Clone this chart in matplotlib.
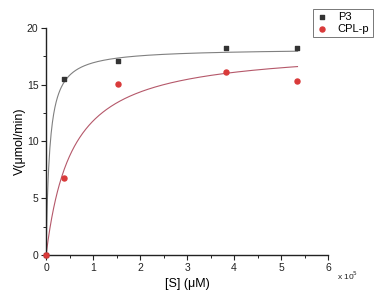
import numpy as np
import matplotlib
matplotlib.use("Agg")
import matplotlib.pyplot as plt
from matplotlib.ticker import MultipleLocator

plt.rcParams['font.family'] = ['Liberation Sans', 'DejaVu Sans']

# substrate concentration (x 10^5 uM) and velocity (umol/min)
s_p3 = [0, 0.38, 1.52, 3.82, 5.35]
v_p3 = [0, 15.5, 17.1, 18.2, 18.2]
s_cpl = [0, 0.38, 1.53, 3.83, 5.35]
v_cpl = [0, 6.8, 15.1, 16.1, 15.3]

# Michaelis-Menten fit parameters (Vmax, Km)
fit_p3 = (18.2, 0.075)
fit_cpl = (18.3, 0.55)

fig = plt.figure(figsize=(3.81, 3.0), dpi=100)
ax = fig.add_axes([0.121, 0.15, 0.74, 0.757])

xs = np.linspace(0, 5.35, 400)
for (vmax, km), col in [(fit_p3, '#808080'), (fit_cpl, '#b5586a')]:
    ax.plot(xs, vmax * xs / (km + xs), color=col, lw=0.8, zorder=2)

ax.scatter(s_p3, v_p3, marker='s', s=11, color='#333333', label='P3', zorder=3)
ax.scatter(s_cpl, v_cpl, marker='o', s=13, color='#d93a3a', label='CPL-p', zorder=4)

ax.set_xlim(0, 6)
ax.set_ylim(0, 20)
ax.xaxis.set_major_locator(MultipleLocator(1))
ax.xaxis.set_minor_locator(MultipleLocator(0.5))
ax.yaxis.set_major_locator(MultipleLocator(5))
ax.yaxis.set_minor_locator(MultipleLocator(2.5))
for side in ['top', 'right']:
    ax.spines[side].set_visible(False)
for side in ['left', 'bottom']:
    ax.spines[side].set_linewidth(1.0)
    ax.spines[side].set_color('#222222')
ax.tick_params(which='major', direction='out', length=3.5, width=0.8, labelsize=7.5, pad=2, colors='#222222')
ax.tick_params(which='minor', direction='out', length=2, width=0.7, colors='#222222')
for c in ax.collections:
    c.set_clip_on(False)

ax.set_xlabel('[S] (\u03bcM)', fontsize=9, labelpad=4)
ax.set_ylabel('V(\u03bcmol/min)', fontsize=9, labelpad=1)
fig.text(0.885, 0.065, 'x 10$^5$', fontsize=6, color='#222222')

leg = fig.legend(loc='upper right', bbox_to_anchor=(0.993, 0.99), fontsize=8,
                 frameon=True, fancybox=False, edgecolor='#555555',
                 handlelength=1.0, handletextpad=0.9, borderpad=0.3, labelspacing=0.2)
leg.get_frame().set_linewidth(0.7)

fig.savefig('out.png', dpi=100)
